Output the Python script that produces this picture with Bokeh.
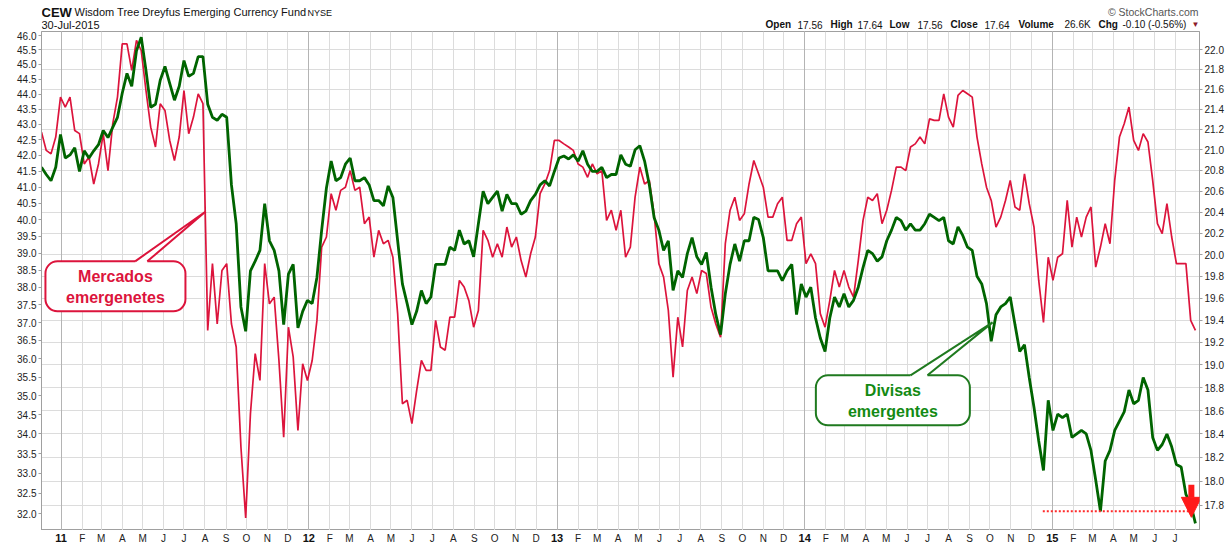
import pandas as pd
from bokeh.plotting import figure
from bokeh.layouts import column
from bokeh.models import (Range1d, LogAxis, FixedTicker, Grid, PrintfTickFormatter,
                          Label, Arrow, NormalHead)
from bokeh.core.properties import value
from bokeh.embed import file_html
from bokeh.resources import INLINE

# weekly closes, starting 3-Dec-2010
# red: emerging markets (left scale), green: CEW (right scale)
eem = [42.75, 42.16, 42.05, 42.59, 43.90, 43.57, 43.90, 42.80, 42.70, 41.73,
       41.95, 41.10, 41.73, 42.70, 41.52, 43.02, 43.90, 45.71, 45.71, 44.80,
       45.83, 45.48, 44.12, 42.91, 42.27, 43.68, 43.46, 42.48, 41.84, 42.59,
       44.12, 42.70, 43.24, 44.01, 43.68, 36.78, 38.69, 36.96, 38.49, 38.69,
       36.96, 36.32, 33.66, 31.90, 34.53, 36.14, 35.41, 38.69, 37.53, 37.72,
       35.95, 33.92, 36.87, 36.05, 34.09, 35.86, 35.41, 35.95, 37.06, 39.18,
       39.48, 40.80, 40.29, 40.90, 41.00, 41.52, 40.90, 41.00, 39.88, 40.08,
       38.88, 39.68, 39.28, 39.38, 38.88, 37.25, 34.79, 34.88, 34.27, 35.14,
       35.95, 35.68, 35.68, 37.06, 36.32, 36.23, 37.15, 37.15, 38.20, 38.01,
       37.62, 36.87, 37.34, 39.68, 39.38, 38.88, 39.28, 38.88, 39.78, 39.18,
       39.48, 38.78, 38.30, 38.98, 39.48, 40.80, 41.10, 41.52, 42.48, 42.48,
       42.37, 42.27, 42.16, 41.73, 41.63, 41.31, 41.73, 41.42, 41.52, 39.98,
       40.29, 39.68, 40.29, 38.88, 39.18, 40.69, 41.63, 41.10, 41.21, 40.18,
       38.69, 38.30, 37.34, 35.50, 37.15, 36.32, 37.91, 38.30, 37.82, 38.49,
       38.40, 37.43, 36.96, 36.59, 39.28, 40.29, 40.69, 39.98, 40.18, 41.10,
       41.84, 41.42, 41.00, 40.08, 40.08, 40.49, 40.69, 39.38, 39.38, 39.88,
       40.08, 38.69, 38.98, 38.69, 37.25, 36.87, 37.62, 38.49, 38.01, 38.49,
       38.01, 37.72, 38.78, 39.98, 40.69, 40.59, 40.80, 39.88, 40.29, 40.90,
       41.63, 41.63, 41.52, 42.27, 42.37, 42.59, 42.37, 43.18, 43.13, 43.13,
       44.01, 43.24, 42.91, 43.96, 44.12, 44.01, 43.90, 42.59, 41.73, 41.00,
       40.59, 39.78, 40.08, 40.59, 41.21, 40.39, 40.29, 41.42, 40.49, 39.78,
       38.20, 37.00, 38.88, 38.20, 38.88, 38.98, 40.59, 39.18, 40.08, 39.48,
       40.08, 40.39, 38.59, 39.18, 39.88, 39.28, 41.21, 42.59, 43.02, 43.57,
       42.48, 42.16, 42.70, 42.43, 41.21, 39.88, 39.58, 40.49, 39.48, 38.69,
       38.69, 38.69, 37.06, 36.78]

cew = [20.83, 20.76, 20.70, 20.83, 21.15, 20.92, 20.95, 21.02, 20.79, 20.99,
       20.92, 20.99, 21.05, 21.19, 21.12, 21.22, 21.32, 21.56, 21.76, 21.63,
       21.99, 22.13, 21.79, 21.42, 21.45, 21.69, 21.83, 21.66, 21.49, 21.63,
       21.89, 21.73, 21.76, 21.93, 21.93, 21.45, 21.32, 21.29, 21.35, 21.32,
       20.66, 20.29, 19.52, 19.30, 19.85, 19.94, 20.04, 20.48, 20.13, 20.04,
       19.85, 19.36, 19.82, 19.91, 19.33, 19.48, 19.58, 19.55, 19.79, 20.23,
       20.63, 20.89, 20.70, 20.73, 20.86, 20.92, 20.70, 20.70, 20.73, 20.66,
       20.51, 20.51, 20.46, 20.65, 20.54, 20.13, 19.73, 19.55, 19.36, 19.48,
       19.67, 19.55, 19.61, 19.91, 19.91, 19.91, 20.07, 20.04, 20.23, 20.10,
       20.13, 19.98, 20.29, 20.60, 20.48, 20.54, 20.60, 20.41, 20.57, 20.48,
       20.48, 20.38, 20.41, 20.51, 20.57, 20.66, 20.70, 20.65, 20.79, 20.92,
       20.94, 20.91, 20.95, 20.89, 20.99, 20.86, 20.79, 20.79, 20.83, 20.73,
       20.76, 20.76, 20.95, 20.86, 20.84, 21.00, 21.04, 20.89, 20.66, 20.35,
       20.23, 20.04, 20.13, 19.67, 19.85, 19.79, 20.01, 20.16, 19.98, 19.91,
       20.02, 19.70, 19.45, 19.27, 19.64, 19.91, 20.10, 19.94, 20.13, 20.13,
       20.35, 20.33, 20.16, 19.85, 19.85, 19.85, 19.76, 19.85, 19.91, 19.45,
       19.73, 19.61, 19.70, 19.42, 19.24, 19.12, 19.42, 19.61, 19.52, 19.64,
       19.52, 19.58, 19.70, 19.88, 20.04, 20.01, 19.94, 19.98, 20.13, 20.23,
       20.35, 20.32, 20.23, 20.29, 20.23, 20.23, 20.29, 20.38, 20.35, 20.32,
       20.35, 20.13, 20.10, 20.26, 20.18, 20.07, 20.04, 19.80, 19.73, 19.55,
       19.21, 19.45, 19.52, 19.55, 19.61, 19.36, 19.12, 19.18, 18.89, 18.63,
       18.34, 18.09, 18.69, 18.43, 18.57, 18.54, 18.57, 18.37, 18.40, 18.43,
       18.40, 18.26, 18.01, 17.75, 18.17, 18.26, 18.43, 18.51, 18.59, 18.78,
       18.66, 18.69, 18.89, 18.78, 18.37, 18.26, 18.31, 18.40, 18.29, 18.14,
       18.12, 17.89, 17.81, 17.65]

dates = pd.date_range("2010-12-03", periods=len(cew), freq="7D")

left_ticks = [32.0, 32.5, 33.0, 33.5, 34.0, 34.5, 35.0, 35.5, 36.0, 36.5,
              37.0, 37.5, 38.0, 38.5, 39.0, 39.5, 40.0, 40.5, 41.0, 41.5,
              42.0, 42.5, 43.0, 43.5, 44.0, 44.5, 45.0, 45.5, 46.0]
right_ticks = [17.8, 18.0, 18.2, 18.4, 18.6, 18.8, 19.0, 19.2, 19.4, 19.6, 19.8,
               20.0, 20.2, 20.4, 20.6, 20.8, 21.0, 21.2, 21.4, 21.6, 21.8, 22.0]
month_letters = ["J", "F", "M", "A", "M", "J", "J", "A", "S", "O", "N", "D"]
year_labels = ["11", "12", "13", "14", "15"]

support_level = 17.75
support_dates = ["2014-12-18", "2015-07-24"]


def ms(d):
    return pd.Timestamp(d).value / 1e6


month_starts = pd.date_range("2011-01-01", "2015-07-01", freq="MS")
month_ticks = [ms(d) for d in month_starts]
year_ticks = [ms(d) for d in month_starts if d.month == 1]
letter_x = [ms(d) for d in month_starts if d.month != 1]
letter_txt = [month_letters[d.month - 1] for d in month_starts if d.month != 1]

RED = "#dc143c"
GREEN = "#006400"
FONT = "Liberation Sans"
W = 1231
LEFT, RIGHT = 41, 32

# ---- header strip (x measured in page pixels) ----
head = figure(width=W, height=30, x_range=Range1d(LEFT, W - RIGHT), y_range=Range1d(30, 0),
              output_backend="svg", toolbar_location=None,
              x_axis_location=None, y_axis_location=None,
              min_border_left=LEFT, min_border_right=RIGHT, min_border_top=0, min_border_bottom=0)
head.grid.visible = False
head.outline_line_color = None


def hdr(text, x, y, size="10px", style="normal", color="#111111", align="left"):
    head.add_layout(Label(x=x, y=y, text=text, text_font=FONT, text_font_size=size,
                          text_font_style=style, text_color=color, text_align=align,
                          text_baseline="middle"))


hdr("CEW", 41, 11.5, size="13px", style="bold")
hdr("Wisdom Tree Dreyfus Emerging Currency Fund", 74, 11.5, size="11px")
hdr("NYSE", 307, 12, size="9px")
hdr("30-Jul-2015", 41, 24.5, size="11px")
hdr("\u00a9 StockCharts.com", 1198, 11.5, size="10.5px", color="#555555", align="right")
quote = [("Open", "bold", 765), ("17.56", "normal", 797), ("High", "bold", 830),
         ("17.64", "normal", 857), ("Low", "bold", 889), ("17.56", "normal", 917),
         ("Close", "bold", 950), ("17.64", "normal", 984), ("Volume", "bold", 1018),
         ("26.6K", "normal", 1064), ("Chg", "bold", 1098), ("-0.10 (-0.56%)", "normal", 1122)]
for txt, style, x in quote:
    hdr(txt, x, 24, style=style)
hdr("\u25bc", 1195, 24, size="8px", color="#8b1a2a", align="center")

# ---- main chart ----
xr = Range1d(ms("2010-12-03"), ms("2015-08-06"))
p = figure(width=W, height=500, x_axis_type="datetime", y_axis_type="log",
           x_range=xr, y_range=Range1d(31.60, 46.14),
           output_backend="svg", toolbar_location=None,
           min_border_left=LEFT, min_border_right=RIGHT, min_border_top=1, min_border_bottom=0)
p.outline_line_color = "#a0a0a0"
p.background_fill_color = "white"
p.border_fill_color = "white"
p.xaxis.visible = False

p.extra_y_ranges = {"right": Range1d(17.592, 22.188)}

left_axis = p.left[0]
left_axis.ticker = FixedTicker(ticks=left_ticks)
left_axis.formatter = PrintfTickFormatter(format="%.1f")
right_axis = LogAxis(y_range_name="right", ticker=FixedTicker(ticks=right_ticks),
                     formatter=PrintfTickFormatter(format="%.1f"))
p.add_layout(right_axis, "right")

for ax in (left_axis, right_axis):
    ax.major_label_text_font = FONT
    ax.major_label_text_font_size = "10px"
    ax.major_label_text_color = "#222222"
    ax.axis_line_color = "#a0a0a0"
    ax.major_tick_line_color = "#a0a0a0"
    ax.major_tick_out = 3
    ax.major_tick_in = 0
    ax.minor_tick_out = 0
    ax.minor_tick_in = 0
    ax.major_label_standoff = 2

p.xgrid.ticker = FixedTicker(ticks=month_ticks)
p.xgrid.grid_line_color = "#dcdcdc"
p.ygrid.visible = False
p.add_layout(Grid(dimension=1, ticker=FixedTicker(ticks=right_ticks), y_range_name="right",
                  grid_line_color="#dcdcdc"))
p.add_layout(Grid(dimension=0, ticker=FixedTicker(ticks=year_ticks), grid_line_color="#b4b4b4"))

# the two series
p.line(dates, eem, line_color=RED, line_width=1.7)
p.line(dates, cew, line_color=GREEN, line_width=2.8, y_range_name="right")

# support line and arrow
p.line([ms(d) for d in support_dates], [support_level, support_level], y_range_name="right",
       line_color="#ff2a2a", line_width=2, line_dash="2 2")
p.add_layout(Arrow(end=NormalHead(size=20, fill_color="#ff1a1a", line_color="#ff1a1a"),
                   x_start=ms("2015-07-25"), y_start=17.97, x_end=ms("2015-07-25"), y_end=17.70,
                   line_color="#ff1a1a", line_width=6, y_range_name="right"))


def callout(cx, cy, w, tail, tip, top, inner, lines, color, text_color, yname="default"):
    p.rect(x=[ms(cx)], y=[cy], width=w, height=50, width_units="screen", height_units="screen",
           fill_color="white", line_color=color, line_width=2, border_radius=12,
           y_range_name=yname)
    xs = [ms(tail[0]), ms(tail[0]), ms(tip[0]), ms(tail[1]), ms(tail[1])]
    p.patch(xs, [inner, top, tip[1], top, inner], fill_color="white", line_color=None,
            y_range_name=yname)
    p.line([ms(tail[0]), ms(tip[0]), ms(tail[1])], [top, tip[1], top], line_color=color,
           line_width=2, y_range_name=yname)
    for txt, off in zip(lines, (10, -11)):
        p.add_layout(Label(x=ms(cx), y=cy, y_offset=off, text=txt, text_font=FONT,
                           text_font_size="16px", text_font_style="bold", text_color=text_color,
                           text_align="center", text_baseline="middle", y_range_name=yname))


callout("2011-03-22", 38.03, 140, ("2011-04-20", "2011-05-08"), ("2011-08-02", 40.25),
        38.758, 38.70, ["Mercados", "emergenetes"], RED, RED)
callout("2014-05-11", 18.69, 154, ("2014-06-06", "2014-07-01"), ("2014-10-05", 19.38),
        18.909, 18.89, ["Divisas", "emergentes"], "#1f7a1f", "#138a13", "right")

# ---- month / year strip under the chart ----
foot = figure(width=W, height=17, x_range=xr, y_range=Range1d(17, 0),
              output_backend="svg", toolbar_location=None,
              x_axis_location=None, y_axis_location=None,
              min_border_left=LEFT, min_border_right=RIGHT, min_border_top=0, min_border_bottom=0)
foot.grid.visible = False
foot.outline_line_color = None
foot.text(x=letter_x, y=[7.5] * len(letter_x), text=letter_txt, text_font=value(FONT),
          text_font_size="10px", text_color="#222222", text_align="center",
          text_baseline="middle")
foot.text(x=year_ticks, y=[7.5] * len(year_ticks), text=year_labels, text_font=value(FONT),
          text_font_size="11px", text_font_style="bold", text_color="#111111",
          text_align="center", text_baseline="middle")

open("out.html", "w").write(file_html(column(head, p, foot, spacing=0), INLINE))
